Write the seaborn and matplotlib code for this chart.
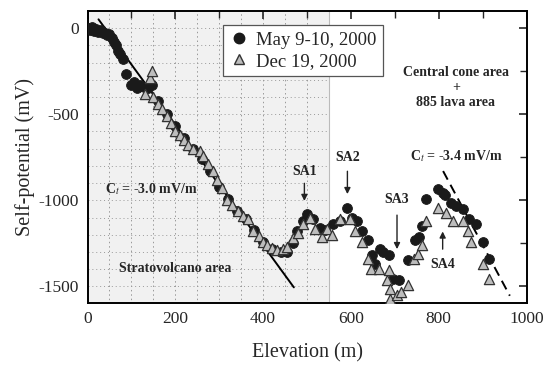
import numpy as np
import pandas as pd
import matplotlib
matplotlib.use("Agg")
import matplotlib.pyplot as plt
from matplotlib.lines import Line2D
from matplotlib.ticker import MultipleLocator
import seaborn as sns

# 2000年5月 (circles)
may_x = [0, 5, 10, 15, 20, 25, 30, 35, 40, 45, 50, 55, 60, 65, 70, 75, 80, 88,
         100, 105, 112, 120, 128, 137, 146,
         160, 180, 200, 220, 240, 260, 280, 300, 320, 340, 360, 380, 400, 420, 440, 455,
         469, 478, 491, 500, 514, 530, 542, 560, 576, 592, 603, 615, 626, 640, 649, 656,
         667, 674, 686, 697, 709, 729, 747, 754, 763, 770, 798, 809, 815, 827, 839, 855,
         869, 885, 901, 914]
may_y = [0, -10, 5, -15, -5, -20, -10, -30, -25, -40, -35, -55, -80, -100, -130, -150, -180, -265,
         -330, -310, -350, -330, -340, -345, -330,
         -420, -500, -570, -640, -700, -760, -830, -920, -990, -1060, -1110, -1170, -1240, -1285, -1300, -1300,
         -1251, -1181, -1120, -1082, -1111, -1160, -1170, -1135, -1123, -1047, -1100, -1123, -1181, -1228, -1316, -1368,
         -1281, -1298, -1316, -1456, -1462, -1345, -1228, -1211, -1152, -994, -936, -959, -970, -1018, -1035, -1053,
         -1111, -1140, -1240, -1339]

# 2000年12月 (triangles)
dec_x = [130, 142, 146, 150, 160, 170, 180, 190, 199, 210, 220, 230, 240, 256, 263, 275, 286, 295,
         306, 318, 330, 343, 355, 366, 377, 390, 400, 409, 420, 432, 445, 455,
         469, 480, 491, 507, 519, 535, 546, 558, 576, 599, 610, 626, 638, 645, 663, 683, 686,
         690, 690, 706, 713, 729, 743, 752, 763, 770, 798, 816, 832, 855, 866, 873, 901, 914]
dec_y = [-380, -290, -250, -400, -440, -470, -510, -550, -596, -620, -650, -680, -700, -713, -740, -790, -830, -880,
         -930, -1000, -1030, -1064, -1090, -1111, -1180, -1210, -1240, -1257, -1280, -1287, -1285, -1269,
         -1222, -1190, -1135, -1105, -1164, -1211, -1164, -1199, -1111, -1111, -1181, -1240, -1339, -1398, -1398, -1462, -1404,
         -1515, -1573, -1550, -1532, -1491, -1339, -1310, -1257, -1123, -1047, -1076, -1123, -1123, -1181, -1240, -1368, -1456]

# trend lines
strato_x = [25, 470]
strato_y = [52, -1506]
cone_x = [810, 962]
cone_y = [-830, -1555]

# SA labels: (name, x, text y, arrow start, arrow end)
sa_names = ["SA1", "SA2", "SA3", "SA4"]
sa_x = [494, 592, 705, 809]
sa_text_y = [-830, -754, -994, -1374]
sa_from_y = [-885, -815, -1070, -1300]
sa_to_y = [-1020, -980, -1300, -1165]

may = pd.DataFrame({"elev": may_x, "sp": may_y})
dec = pd.DataFrame({"elev": dec_x, "sp": dec_y})

sns.set_style("white")
plt.rcParams['font.family'] = ['Liberation Serif', 'DejaVu Serif']
plt.rcParams['mathtext.fontset'] = 'stix'
plt.rcParams['axes.unicode_minus'] = False

fig = plt.figure(figsize=(5.46, 3.70), dpi=100)
ax = fig.add_axes([0.1603, 0.182, 0.804, 0.789])

# stratovolcano area: light background with dotted grid
ax.axvspan(0, 550, color='#f1f1f1', zorder=0, lw=0)
ax.axvline(550, color='#bbbbbb', lw=0.8, zorder=0.5)
ax.vlines(np.arange(50, 550, 50), -1600, 100, colors='#999999', linestyles=(0, (1.5, 3)), lw=0.7, zorder=0.5)
ax.hlines(np.arange(-1500, 100, 100), 0, 550, colors='#999999', linestyles=(0, (1, 3)), lw=0.7, zorder=0.5)

sns.lineplot(x=strato_x, y=strato_y, ax=ax, color='black', lw=1.4, zorder=3)
sns.lineplot(x=cone_x, y=cone_y, ax=ax, color='black', lw=1.4, ls=(0, (5, 3)), zorder=3)

sns.scatterplot(data=may, x="elev", y="sp", ax=ax, marker='o', s=50, color='#1a1a1a',
                edgecolor='#1a1a1a', linewidth=0.6, zorder=4)
sns.scatterplot(data=dec, x="elev", y="sp", ax=ax, marker='^', s=54, color='#bdbdbd',
                edgecolor='#333333', linewidth=0.9, zorder=5)

for name, x, ty, y0, y1 in zip(sa_names, sa_x, sa_text_y, sa_from_y, sa_to_y):
    ax.text(x, ty, name, ha='center', va='center', fontsize=10, fontweight='bold', color='#222222')
    ax.annotate('', xy=(x, y1), xytext=(x, y0),
                arrowprops=dict(arrowstyle='-|>', color='#222222', lw=1.0, mutation_scale=9))

bold = dict(ha='center', va='center', fontsize=10, fontweight='bold')
ax.text(146, -936, r'C$_t$ = -3.0 mV/m', **bold)
ax.text(199, -1398, 'Stratovolcano area', **bold)
ax.text(839, -257, 'Central cone area', **bold)
ax.text(839, -345, '+', **bold)
ax.text(839, -433, '885 lava area', **bold)
ax.text(839, -743, r'C$_t$ = -3.4 mV/m', **bold)

ax.set_xlim(0, 1000)
ax.set_ylim(-1595, 102)
ax.xaxis.set_major_locator(MultipleLocator(200))
ax.xaxis.set_minor_locator(MultipleLocator(100))
ax.yaxis.set_major_locator(MultipleLocator(500))
ax.yaxis.set_minor_locator(MultipleLocator(250))
ax.tick_params(which='both', direction='in', top=True, right=True, labelsize=12.5, pad=6)
ax.tick_params(which='major', length=6, width=1.2)
ax.tick_params(which='minor', length=5, width=1.0)
for sp in ax.spines.values():
    sp.set_linewidth(1.4)
    sp.set_color('black')

ax.set_xlabel('Elevation (m)', fontsize=14.5, labelpad=12)
ax.set_ylabel('Self-potential (mV)', fontsize=14.5, labelpad=3)

handles = [Line2D([], [], marker='o', ls='', color='#1a1a1a', markersize=7.5),
           Line2D([], [], marker='^', ls='', markerfacecolor='#bdbdbd', markeredgecolor='#333333', markersize=7.5)]
leg = ax.legend(handles, ['May 9-10, 2000', 'Dec 19, 2000'], loc='upper left',
                bbox_to_anchor=(0.309, 0.951), borderaxespad=0, fontsize=13.5,
                fancybox=False, framealpha=1, edgecolor='#555555', handletextpad=0.4,
                handlelength=1.0, borderpad=0.35, labelspacing=0.2)
leg.get_frame().set_linewidth(0.9)

fig.savefig('out.png', dpi=100)
